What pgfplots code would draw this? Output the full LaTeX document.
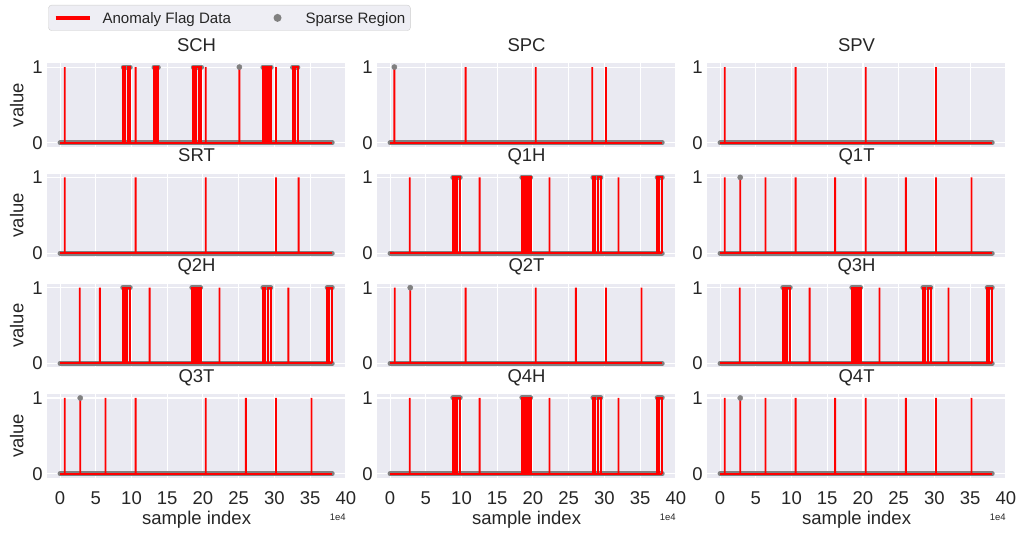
\documentclass[border=0pt]{standalone}
\usepackage{fontspec}
\setmainfont{Liberation Sans}
\usepackage{pgfplots}
\pgfplotsset{compat=1.18}

\definecolor{sbbg}{HTML}{EAEAF2}
\definecolor{sbtext}{HTML}{262626}
\definecolor{sbgray}{HTML}{808080}
\definecolor{sbflag}{HTML}{FF0000}
\definecolor{legbg}{HTML}{EEEEF4}
\definecolor{legedge}{HTML}{CCCCCC}

\newcommand{\labelfont}{\fontsize{18.5}{22}\selectfont}

\pgfplotsset{
  panel/.style={
    scale only axis, width=298.5pt, height=83.3pt, anchor=north west,
    xmin=-17900, xmax=400000, ymin=-0.05, ymax=1.05,
    axis background/.style={fill=sbbg},
    axis line style={draw=none},
    xtick={0,50000,100000,150000,200000,250000,300000,350000,400000},
    xticklabels={}, scaled x ticks=false,
    ytick={0,1}, yticklabels={0,1},
    major tick length=0pt,
    grid=major, grid style={draw=white, line width=1.1pt},
    tick label style={font=\labelfont, text=sbtext},
    yticklabel style={xshift=-1.0pt},
    title style={at={(0.5,1)}, anchor=base, yshift=6pt, font=\labelfont, text=sbtext},
    clip=false, unbounded coords=jump,
  },
  bottom row/.style={
    xticklabels={0,5,10,15,20,25,30,35,40},
    xticklabel style={anchor=base, yshift=-26.8pt},
    xlabel={sample index},
    xlabel style={at={(0.5,-0.565)}, anchor=base, font=\labelfont, text=sbtext},
    after end axis/.code={
      \node[anchor=base east, font=\fontsize{9.5}{11}\selectfont, text=sbtext, inner sep=0pt]
        at (rel axis cs:1,-0.515) {1e4};
    },
  },
  left col/.style={
    ylabel={value},
    ylabel style={at={(-0.1025,0.5)}, anchor=center, font=\labelfont, text=sbtext},
  },
  sparse/.style={draw=sbgray, line width=5pt, line cap=round, mark=none, forget plot},
  sparsedot/.style={only marks, mark=*, mark size=2.6pt, color=sbgray, forget plot},
  % runs of flagged samples and the zero baseline
  flag/.style={draw=sbflag, line width=1.9pt, line join=miter, mark=none, forget plot},
  % single flagged samples
  flagone/.style={ybar, bar width=1.9pt, bar shift=0pt, fill=sbflag, draw=none, forget plot},
}

\begin{document}
\begin{tikzpicture}
\path[use as bounding box] (0pt,0pt) rectangle (1019pt,-536pt);

% ---------------- row 1 ----------------
\begin{axis}[panel, left col, at={(47.3pt,-63.3pt)}, title={SCH},
  legend columns=2,
  legend style={at={(0.0034,1.6999)}, anchor=north west, draw=legedge, fill=legbg,
    rounded corners=3pt, font=\fontsize{15.1}{18}\selectfont, text=sbtext,
    inner xsep=5pt, inner ysep=7.2pt, nodes={inner sep=0pt, text depth=0pt},
    cells={anchor=west}, column sep=11pt,
    /tikz/every even column/.append style={column sep=29.6pt}}]
  \addplot[sparse] coordinates {(0,0)(381000,0)(0,nan)
    (88500,1)(98200,1)(0,nan)(131500,1)(137500,1)(0,nan)(186500,1)(198000,1)(0,nan)
    (284000,1)(295500,1)(0,nan)(325500,1)(332800,1)};
  \addplot[sparsedot] coordinates {(251000,1)};
  \addplot[flag] coordinates {(0,0)(381000,0)(0,nan)
    (88500,0)(88500,1)(91500,1)(91500,0)(95000,0)(95000,1)(98200,1)(98200,0)(0,nan)
    (131500,0)(131500,1)(133500,1)(133500,0)(135000,0)(135000,1)(137500,1)(137500,0)(0,nan)
    (186500,0)(186500,1)(188500,1)(188500,0)(190000,0)(190000,1)(194000,1)(194000,0)
    (195500,0)(195500,1)(198000,1)(198000,0)(0,nan)
    (284000,0)(284000,1)(286500,1)(286500,0)(288000,0)(288000,1)(291500,1)(291500,0)
    (293000,0)(293000,1)(295500,1)(295500,0)(0,nan)
    (325500,0)(325500,1)(327000,1)(327000,0)(329000,0)(329000,1)(332800,1)(332800,0)};
  \addplot[flagone] coordinates {(6500,1)(105800,1)(203900,1)(251000,1)(302300,1)};
  \addlegendimage{legend image code/.code={
      \path[draw=none, fill=none, sharp corners] (0pt,-4pt) rectangle (34pt,4pt);
      \draw[sbflag, line width=4pt, sharp corners, line cap=butt] (0pt,0pt) -- (34pt,0pt);}}
  \addlegendentry{Anomaly Flag Data}
  \addlegendimage{legend image code/.code={
      \path[draw=none, fill=none, sharp corners] (0pt,-4pt) rectangle (34pt,4pt);
      \fill[sbgray, draw=none] (17pt,0pt) circle (4pt);}}
  \addlegendentry{Sparse Region}
\end{axis}

\begin{axis}[panel, at={(377.3pt,-63.3pt)}, title={SPC}]
  \addplot[sparse] coordinates {(0,0)(381000,0)};
  \addplot[sparsedot] coordinates {(6000,1)};
  \addplot[flag] coordinates {(0,0)(381000,0)};
  \addplot[flagone] coordinates {(6000,1)(105800,1)(203900,1)(283000,1)(302300,1)};
\end{axis}

\begin{axis}[panel, at={(707.3pt,-63.3pt)}, title={SPV}]
  \addplot[sparse] coordinates {(0,0)(381000,0)};
  \addplot[flag] coordinates {(0,0)(381000,0)};
  \addplot[flagone] coordinates {(6500,1)(105800,1)(203900,1)(302300,1)};
\end{axis}

% ---------------- row 2 ----------------
\begin{axis}[panel, left col, at={(47.3pt,-173.6pt)}, title={SRT}]
  \addplot[sparse] coordinates {(0,0)(381000,0)};
  \addplot[flag] coordinates {(0,0)(381000,0)};
  \addplot[flagone] coordinates {(6500,1)(105800,1)(203900,1)(302300,1)(334000,1)};
\end{axis}

\begin{axis}[panel, at={(377.3pt,-173.6pt)}, title={Q1H}]
  \addplot[sparse] coordinates {(0,0)(381000,0)(0,nan)
    (87800,1)(98200,1)(0,nan)(184500,1)(196800,1)(0,nan)
    (284000,1)(295000,1)(0,nan)(374000,1)(381000,1)};
  \addplot[flag] coordinates {(0,0)(381000,0)(0,nan)
    (87800,0)(87800,1)(90800,1)(90800,0)(93500,0)(93500,1)(98200,1)(98200,0)(0,nan)
    (184500,0)(184500,1)(185300,1)(185300,0)(185800,0)(185800,1)(186600,1)(186600,0)
    (187000,0)(187000,1)(187800,1)(187800,0)(188300,0)(188300,1)(189100,1)(189100,0)
    (189600,0)(189600,1)(190400,1)(190400,0)(190900,0)(190900,1)(191700,1)(191700,0)
    (192200,0)(192200,1)(193000,1)(193000,0)(193500,0)(193500,1)(194300,1)(194300,0)
    (194800,0)(194800,1)(195600,1)(195600,0)(196000,0)(196000,1)(196800,1)(196800,0)(0,nan)
    (284000,0)(284000,1)(287200,1)(287200,0)(290800,0)(290800,1)(295000,1)(295000,0)(0,nan)
    (374000,0)(374000,1)(375000,1)(375000,0)(377000,0)(377000,1)(380500,1)(380500,0)};
  \addplot[flagone] coordinates {(27500,1)(125300,1)(223200,1)(319700,1)};
\end{axis}

\begin{axis}[panel, at={(707.3pt,-173.6pt)}, title={Q1T}]
  \addplot[sparse] coordinates {(0,0)(381000,0)};
  \addplot[sparsedot] coordinates {(28200,1)};
  \addplot[flag] coordinates {(0,0)(381000,0)};
  \addplot[flagone] coordinates {(6500,1)(28200,1)(63600,1)(105800,1)(161000,1)
    (203900,1)(260000,1)(302300,1)(352000,1)};
\end{axis}

% ---------------- row 3 ----------------
\begin{axis}[panel, left col, at={(47.3pt,-283.9pt)}, title={Q2H}]
  \addplot[sparse] coordinates {(0,0)(381000,0)(0,nan)
    (87800,1)(98200,1)(0,nan)(184500,1)(196800,1)(0,nan)
    (284000,1)(295000,1)(0,nan)(374000,1)(381000,1)};
  \addplot[flag] coordinates {(0,0)(381000,0)(0,nan)
    (87800,0)(87800,1)(90800,1)(90800,0)(93500,0)(93500,1)(98200,1)(98200,0)(0,nan)
    (184500,0)(184500,1)(185300,1)(185300,0)(185800,0)(185800,1)(186600,1)(186600,0)
    (187000,0)(187000,1)(187800,1)(187800,0)(188300,0)(188300,1)(189100,1)(189100,0)
    (189600,0)(189600,1)(190400,1)(190400,0)(190900,0)(190900,1)(191700,1)(191700,0)
    (192200,0)(192200,1)(193000,1)(193000,0)(193500,0)(193500,1)(194300,1)(194300,0)
    (194800,0)(194800,1)(195600,1)(195600,0)(196000,0)(196000,1)(196800,1)(196800,0)(0,nan)
    (284000,0)(284000,1)(287200,1)(287200,0)(290800,0)(290800,1)(295000,1)(295000,0)(0,nan)
    (374000,0)(374000,1)(375000,1)(375000,0)(377000,0)(377000,1)(380500,1)(380500,0)};
  \addplot[flagone] coordinates {(27500,1)(55700,1)(125300,1)(223200,1)(319700,1)};
\end{axis}

\begin{axis}[panel, at={(377.3pt,-283.9pt)}, title={Q2T}]
  \addplot[sparse] coordinates {(0,0)(381000,0)};
  \addplot[sparsedot] coordinates {(28200,1)};
  \addplot[flag] coordinates {(0,0)(381000,0)};
  \addplot[flagone] coordinates {(6500,1)(28200,1)(105800,1)(203900,1)(260000,1)
    (302300,1)(352000,1)};
\end{axis}

\begin{axis}[panel, at={(707.3pt,-283.9pt)}, title={Q3H}]
  \addplot[sparse] coordinates {(0,0)(381000,0)(0,nan)
    (87800,1)(98200,1)(0,nan)(184500,1)(196800,1)(0,nan)
    (284000,1)(295000,1)(0,nan)(374000,1)(381000,1)};
  \addplot[flag] coordinates {(0,0)(381000,0)(0,nan)
    (87800,0)(87800,1)(90800,1)(90800,0)(93500,0)(93500,1)(98200,1)(98200,0)(0,nan)
    (184500,0)(184500,1)(185300,1)(185300,0)(185800,0)(185800,1)(186600,1)(186600,0)
    (187000,0)(187000,1)(187800,1)(187800,0)(188300,0)(188300,1)(189100,1)(189100,0)
    (189600,0)(189600,1)(190400,1)(190400,0)(190900,0)(190900,1)(191700,1)(191700,0)
    (192200,0)(192200,1)(193000,1)(193000,0)(193500,0)(193500,1)(194300,1)(194300,0)
    (194800,0)(194800,1)(195600,1)(195600,0)(196000,0)(196000,1)(196800,1)(196800,0)(0,nan)
    (284000,0)(284000,1)(287200,1)(287200,0)(290800,0)(290800,1)(295000,1)(295000,0)(0,nan)
    (374000,0)(374000,1)(375000,1)(375000,0)(377000,0)(377000,1)(380500,1)(380500,0)};
  \addplot[flagone] coordinates {(27500,1)(125300,1)(223200,1)(319700,1)};
\end{axis}

% ---------------- row 4 ----------------
\begin{axis}[panel, left col, bottom row, at={(47.3pt,-394.2pt)}, title={Q3T}]
  \addplot[sparse] coordinates {(0,0)(381000,0)};
  \addplot[sparsedot] coordinates {(28200,1)};
  \addplot[flag] coordinates {(0,0)(381000,0)};
  \addplot[flagone] coordinates {(6500,1)(28200,1)(63600,1)(105800,1)(203900,1)
    (260000,1)(302300,1)(352000,1)};
\end{axis}

\begin{axis}[panel, bottom row, at={(377.3pt,-394.2pt)}, title={Q4H}]
  \addplot[sparse] coordinates {(0,0)(381000,0)(0,nan)
    (87800,1)(98200,1)(0,nan)(184500,1)(196800,1)(0,nan)
    (284000,1)(295000,1)(0,nan)(374000,1)(381000,1)};
  \addplot[flag] coordinates {(0,0)(381000,0)(0,nan)
    (87800,0)(87800,1)(90800,1)(90800,0)(93500,0)(93500,1)(98200,1)(98200,0)(0,nan)
    (184500,0)(184500,1)(185300,1)(185300,0)(185800,0)(185800,1)(186600,1)(186600,0)
    (187000,0)(187000,1)(187800,1)(187800,0)(188300,0)(188300,1)(189100,1)(189100,0)
    (189600,0)(189600,1)(190400,1)(190400,0)(190900,0)(190900,1)(191700,1)(191700,0)
    (192200,0)(192200,1)(193000,1)(193000,0)(193500,0)(193500,1)(194300,1)(194300,0)
    (194800,0)(194800,1)(195600,1)(195600,0)(196000,0)(196000,1)(196800,1)(196800,0)(0,nan)
    (284000,0)(284000,1)(287200,1)(287200,0)(290800,0)(290800,1)(295000,1)(295000,0)(0,nan)
    (374000,0)(374000,1)(375000,1)(375000,0)(377000,0)(377000,1)(380500,1)(380500,0)};
  \addplot[flagone] coordinates {(27500,1)(125300,1)(223200,1)(319700,1)};
\end{axis}

\begin{axis}[panel, bottom row, at={(707.3pt,-394.2pt)}, title={Q4T}]
  \addplot[sparse] coordinates {(0,0)(381000,0)};
  \addplot[sparsedot] coordinates {(28200,1)};
  \addplot[flag] coordinates {(0,0)(381000,0)};
  \addplot[flagone] coordinates {(6500,1)(28200,1)(63600,1)(105800,1)(161000,1)
    (203900,1)(260000,1)(302300,1)(352000,1)};
\end{axis}
\end{tikzpicture}
\end{document}
